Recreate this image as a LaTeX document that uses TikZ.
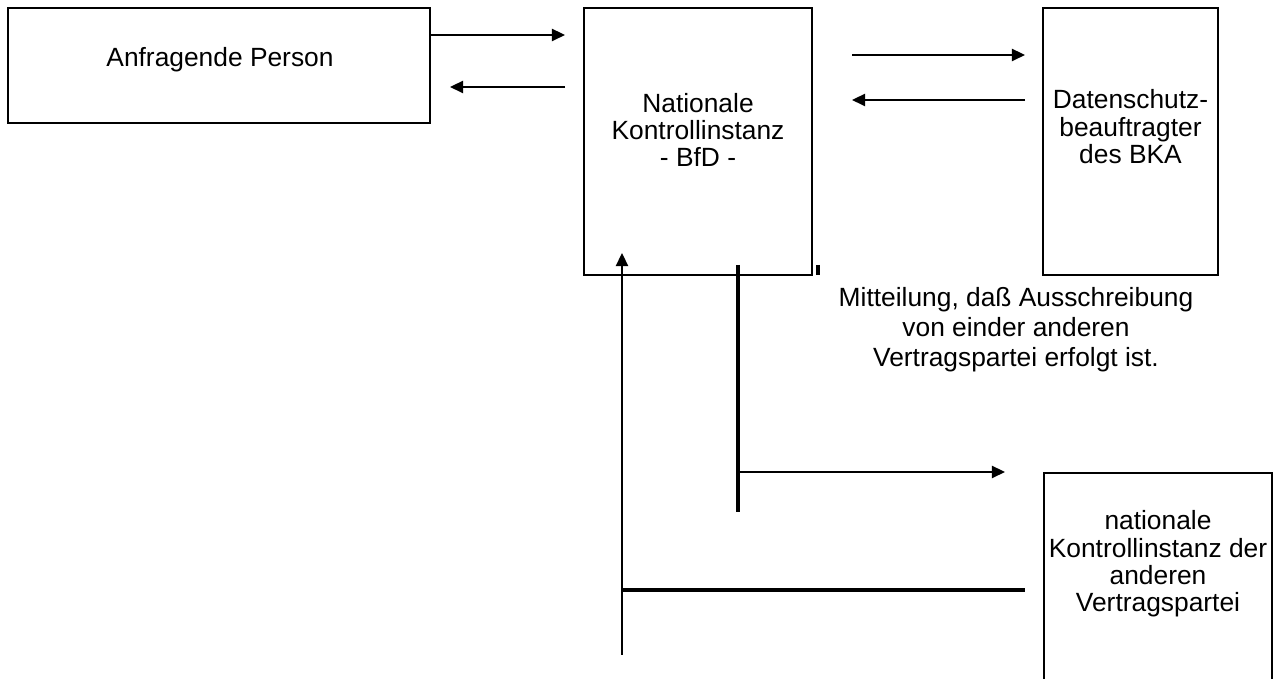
\documentclass[tikz,border=0pt]{standalone}
\usepackage{fontspec}
\setmainfont{Liberation Sans}
\usepackage{tikz}
\usetikzlibrary{arrows.meta,positioning}

\begin{document}
\begin{tikzpicture}[box/.style={draw=black,line width=1.3pt,inner sep=0pt},
    txt/.style={align=center,font=\fontsize{15}{15.6}\selectfont,inner sep=0pt},
    pfeil/.style={-{Triangle[length=7.5pt,width=7pt]},line width=0.9pt},
    dick/.style={line width=2pt}]
    \useasboundingbox (0,0) rectangle (25.56,13.58);
    % Kaesten
    \node [box,minimum width=8.44cm,minimum height=2.3cm] (person) at (4.38,12.27) {};
    \node [box,minimum width=4.56cm,minimum height=5.34cm] (bfd) at (13.96,10.75) {};
    \node [box,minimum width=3.5cm,minimum height=5.34cm] (bka) at (22.61,10.75) {};
    \draw [line width=1.3pt] (20.88,0) -- (20.88,4.12) -- (25.44,4.12) -- (25.44,0);
    \coordinate (andereOben) at (23.16,4.12);
    % Texte
    \node [txt] (tperson) at (4.4,12.38) {Anfragende Person};
    \node [txt] (tbfd) at (13.96,10.98) {Nationale\\Kontrollinstanz\\- BfD -};
    \node [txt] (tbka) at (22.61,11.04) {Datenschutz-\\beauftragter\\des BKA};
    \node [txt] (tandere) at (23.16,2.3) {nationale\\Kontrollinstanz der\\anderen\\Vertragspartei};
    \node [txt,font=\fontsize{15}{17}\selectfont] (mitteilung) at (20.32,6.98)
        {Mitteilung, daß Ausschreibung\\von einder anderen\\Vertragspartei erfolgt ist.};
    % Pfeile oben
    \coordinate (p1) at (11.3,12.88); \coordinate (p2) at (11.3,11.84);
    \coordinate (p3) at (9.0,11.84);
    \draw [pfeil] (person.east |- p1) -- (p1);
    \draw [pfeil] (p2) -- (p3);
    \coordinate (b1) at (17.04,12.48); \coordinate (b2) at (20.5,12.48);
    \coordinate (b3) at (20.5,11.58); \coordinate (b4) at (17.04,11.58);
    \draw [pfeil] (b1) -- (b2);
    \draw [pfeil] (b3) -- (b4);
    \draw [dick] (16.36,8.28) -- (16.36,8.08);
    % Linien unten
    \coordinate (m1) at (14.76,8.28); \coordinate (m2) at (14.76,3.34);
    \coordinate (m3) at (14.76,4.14); \coordinate (m4) at (20.1,4.14);
    \draw [dick] (m1) -- (m2);
    \draw [pfeil] (m3) -- (m4);
    \coordinate (r1) at (12.44,0.48); \coordinate (r2) at (12.44,8.52);
    \coordinate (r3) at (12.44,1.78); \coordinate (r4) at (20.5,1.78);
    \draw [pfeil] (r1) -- (r2);
    \draw [dick] (r3) -- (r4);
\end{tikzpicture}
\end{document}
